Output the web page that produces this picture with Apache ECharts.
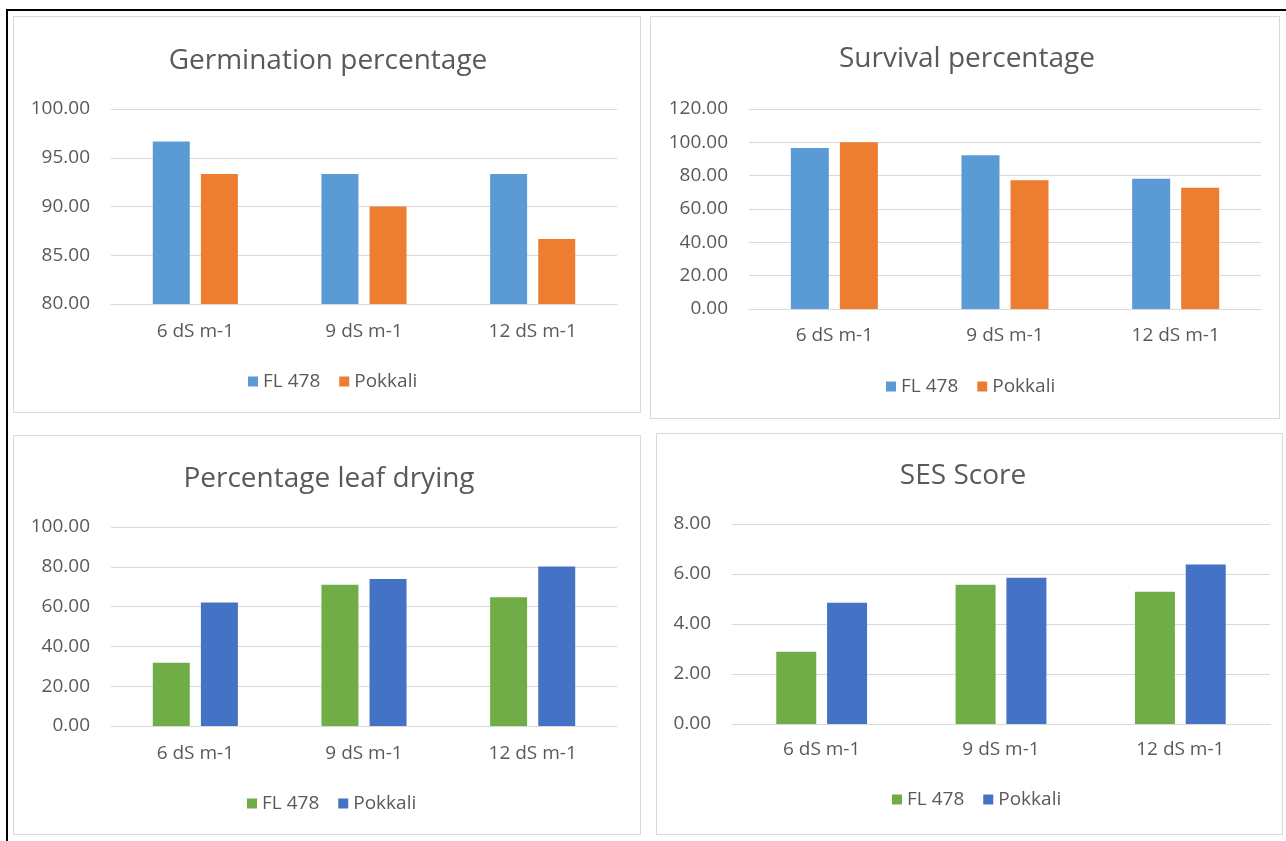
<!DOCTYPE html>
<html>
<head>
<meta charset="utf-8">
<script src="https://cdn.jsdelivr.net/npm/echarts@6/dist/echarts.min.js"></script>
<style>
  html, body { margin: 0; padding: 0; background: #fff; width: 1286px; height: 841px; overflow: hidden; }
  .frame { position: absolute; left: 6px; top: 9px; width: 1300px; height: 900px; border-top: 2px solid #000; border-left: 2px solid #000; }
  .panel { position: absolute; box-sizing: border-box; border: 1px solid #d9d9d9; background: #fff; }
</style>
</head>
<body>
<div class="frame"></div>
<div id="p1" class="panel" style="left:13px;top:16px;width:628px;height:397px;"></div>
<div id="p2" class="panel" style="left:650px;top:16px;width:630px;height:403px;"></div>
<div id="p3" class="panel" style="left:13px;top:435px;width:628px;height:400px;"></div>
<div id="p4" class="panel" style="left:656px;top:433px;width:627px;height:402px;"></div>
<script>
const categories = ['6 dS m-1', '9 dS m-1', '12 dS m-1'];
const seriesNames = ['FL 478', 'Pokkali'];

const germFL478 = [96.67, 93.33, 93.33];
const germPokkali = [93.33, 90.00, 86.67];

const survFL478 = [96.67, 92.22, 78.15];
const survPokkali = [100.00, 77.22, 72.78];

const leafFL478 = [31.80, 71.00, 64.70];
const leafPokkali = [62.00, 73.90, 80.10];

const sesFL478 = [2.89, 5.57, 5.29];
const sesPokkali = [4.85, 5.85, 6.38];

const yTicks1 = { min: 80, max: 100, interval: 5 };
const yTicks2 = { min: 0, max: 120, interval: 20 };
const yTicks3 = { min: 0, max: 100, interval: 20 };
const yTicks4 = { min: 0, max: 8, interval: 2 };

const FONT = '"Open Sans", "Liberation Sans", sans-serif';
const TXT = '#595959';

function makeOption(cfg) {
  return {
    animation: false,
    title: {
      text: cfg.title,
      left: cfg.titleX,
      top: cfg.titleTop,
      textAlign: 'center',
      textStyle: { fontFamily: FONT, fontSize: 28, fontWeight: 'normal', color: TXT }
    },
    legend: {
      data: seriesNames,
      left: cfg.legendX,
      top: cfg.legendTop,
      itemWidth: 10,
      itemHeight: 10,
      itemGap: 19,
      icon: 'rect',
      textStyle: { fontFamily: FONT, fontSize: 19, color: TXT }
    },
    grid: { left: cfg.grid[0], top: cfg.grid[1], width: cfg.grid[2], height: cfg.grid[3] },
    xAxis: {
      type: 'category',
      data: categories,
      axisTick: { show: false },
      axisLine: { lineStyle: { color: '#d9d9d9', width: 1 } },
      axisLabel: { fontFamily: FONT, fontSize: 19, color: TXT, margin: cfg.catMargin }
    },
    yAxis: {
      type: 'value',
      min: cfg.y.min, max: cfg.y.max, interval: cfg.y.interval,
      axisLine: { show: false },
      axisTick: { show: false },
      splitLine: { lineStyle: { color: '#d9d9d9', width: 1 } },
      axisLabel: { fontFamily: FONT, fontSize: 19, color: TXT, margin: 21,
        formatter: v => v.toFixed(2) }
    },
    series: [
      { name: seriesNames[0], type: 'bar', data: cfg.a, barWidth: cfg.barWidth, barGap: cfg.barGap,
        itemStyle: { color: cfg.colors[0] } },
      { name: seriesNames[1], type: 'bar', data: cfg.b, barWidth: cfg.barWidth, barGap: cfg.barGap,
        itemStyle: { color: cfg.colors[1] } }
    ]
  };
}

const panels = [
  { id: 'p1', title: 'Germination percentage', titleX: 309, titleTop: 25, legendX: 229, legendTop: 350,
    grid: [97, 92, 506, 195], catMargin: 18, y: yTicks1, a: germFL478, b: germPokkali,
    barWidth: 37, barGap: '30%', colors: ['#5B9BD5', '#ED7D31'] },
  { id: 'p2', title: 'Survival percentage', titleX: 311, titleTop: 23, legendX: 230, legendTop: 355,
    grid: [98, 92, 512, 200], catMargin: 17, y: yTicks2, a: survFL478, b: survPokkali,
    barWidth: 38, barGap: '29%', colors: ['#5B9BD5', '#ED7D31'] },
  { id: 'p3', title: 'Percentage leaf drying', titleX: 310, titleTop: 24, legendX: 228, legendTop: 353,
    grid: [97, 91, 506, 199], catMargin: 18, y: yTicks3, a: leafFL478, b: leafPokkali,
    barWidth: 37, barGap: '30%', colors: ['#70AD47', '#4472C4'] },
  { id: 'p4', title: 'SES Score', titleX: 301, titleTop: 23, legendX: 230, legendTop: 351,
    grid: [75, 90, 538, 200], catMargin: 16, y: yTicks4, a: sesFL478, b: sesPokkali,
    barWidth: 40, barGap: '27%', colors: ['#70AD47', '#4472C4'] }
];

panels.forEach(p => {
  const chart = echarts.init(document.getElementById(p.id), null, { renderer: 'canvas' });
  chart.setOption(makeOption(p));
});
</script>
</body>
</html>
